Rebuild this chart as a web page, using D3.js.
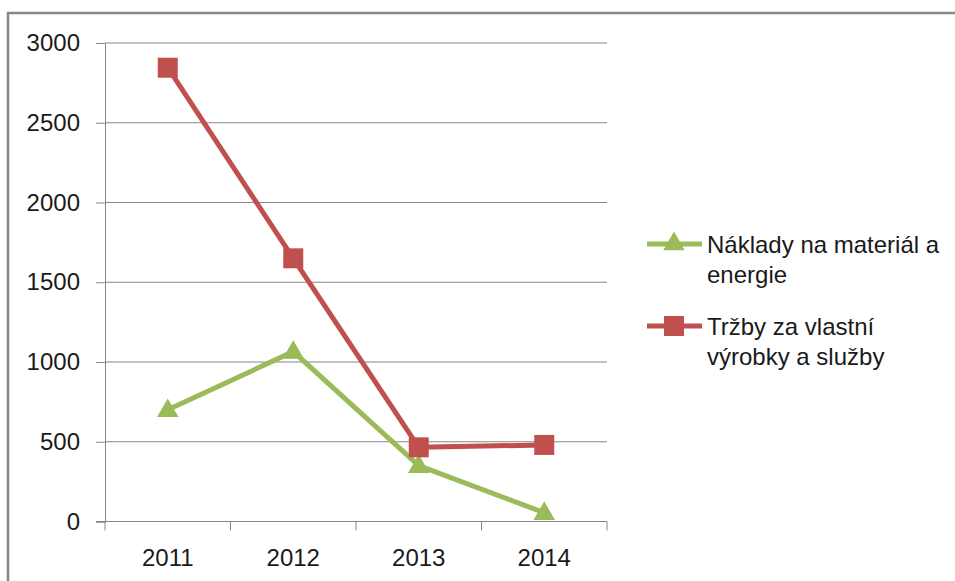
<!DOCTYPE html>
<html>
<head>
<meta charset="utf-8">
<script src="https://cdn.jsdelivr.net/npm/d3@7"></script>
<style>
  body { margin: 0; background: #fff; }
  text { font-family: "Liberation Sans", Arial, sans-serif; fill: #1a1a1a; }
</style>
</head>
<body>
<svg width="955" height="581"></svg>
<script>
// data
var years = ["2011", "2012", "2013", "2014"];
var naklady = [700, 1065, 350, 55];
var trzby = [2845, 1650, 465, 480];
var yTicks = [0, 500, 1000, 1500, 2000, 2500, 3000];
var seriesNames = [["Náklady na materiál a", "energie"], ["Tržby za vlastní", "výrobky a služby"]];

var svg = d3.select("svg");

// outer frame
svg.append("rect")
   .attr("x", 8).attr("y", 13)
   .attr("width", 1000).attr("height", 600)
   .attr("fill", "none")
   .attr("stroke", "#878787")
   .attr("stroke-width", 2.5);

var pLeft = 105, pRight = 607, pTop = 43, pBottom = 521.5;
var fs = 24;

var x = d3.scaleBand()
          .domain(years)
          .range([pLeft, pRight]);

var y = d3.scaleLinear()
          .domain([0, 3000])
          .range([pBottom, pTop]);

// gridlines + y axis
var yAxis = d3.axisLeft(y)
              .tickValues(yTicks)
              .tickFormat(d3.format("d"))
              .tickSize(9);

var gy = svg.append("g")
            .attr("transform", "translate(" + pLeft + ",0)")
            .call(yAxis);
gy.select(".domain").attr("stroke", "#868686");
gy.selectAll(".tick line").attr("stroke", "#868686");
gy.selectAll(".tick text")
  .attr("font-size", fs)
  .attr("font-family", "Liberation Sans, Arial, sans-serif")
  .attr("fill", "#1a1a1a")
  .attr("x", -25);

svg.append("g").selectAll("line")
   .data(yTicks.filter(d => d > 0))
   .enter().append("line")
   .attr("x1", pLeft).attr("x2", pRight)
   .attr("y1", d => y(d)).attr("y2", d => y(d))
   .attr("stroke", "#868686");

// x axis
var gx = svg.append("g")
            .attr("transform", "translate(0," + pBottom + ")");
gx.append("line")
  .attr("x1", pLeft - 9).attr("x2", pRight)
  .attr("stroke", "#868686");
gx.selectAll("line.tk")
  .data(years.concat(["end"]))
  .enter().append("line")
  .attr("class", "tk")
  .attr("x1", (d, i) => i < years.length ? x(d) : pRight)
  .attr("x2", (d, i) => i < years.length ? x(d) : pRight)
  .attr("y1", 0).attr("y2", 9)
  .attr("stroke", "#868686");
gx.selectAll("text")
  .data(years)
  .enter().append("text")
  .attr("x", d => x(d) + x.bandwidth() / 2)
  .attr("y", 44)
  .attr("text-anchor", "middle")
  .attr("font-size", fs)
  .text(d => d);

var cx = d => x(d) + x.bandwidth() / 2;
var line = d3.line()
             .x((d, i) => cx(years[i]))
             .y(d => y(d));

var green = "#9bbb59", red = "#c0504d";
var tri = d3.symbol().type(d3.symbolTriangle).size(200);

// green series
svg.append("path")
   .datum(naklady)
   .attr("d", line)
   .attr("fill", "none")
   .attr("stroke", green)
   .attr("stroke-width", 5)
   .attr("stroke-linejoin", "round");

// red series
svg.append("path")
   .datum(trzby)
   .attr("d", line)
   .attr("fill", "none")
   .attr("stroke", red)
   .attr("stroke-width", 5)
   .attr("stroke-linejoin", "round");

svg.append("g").selectAll("path")
   .data(naklady)
   .enter().append("path")
   .attr("d", tri)
   .attr("transform", (d, i) => "translate(" + cx(years[i]) + "," + (y(d) + 1) + ")")
   .attr("fill", green);

svg.append("g").selectAll("rect")
   .data(trzby)
   .enter().append("rect")
   .attr("x", (d, i) => cx(years[i]) - 10)
   .attr("y", d => y(d) - 10)
   .attr("width", 20).attr("height", 20)
   .attr("fill", red);

// legend
var legend = svg.append("g");
var items = legend.selectAll("g")
   .data(seriesNames)
   .enter().append("g")
   .attr("transform", (d, i) => "translate(0," + (i === 0 ? 244 : 326) + ")");

items.append("line")
   .attr("x1", 647).attr("x2", 702)
   .attr("stroke", (d, i) => i === 0 ? green : red)
   .attr("stroke-width", 5);

items.each(function(d, i) {
  var g = d3.select(this);
  if (i === 0) {
    g.append("path").attr("d", tri).attr("transform", "translate(674,0)").attr("fill", green);
  } else {
    g.append("rect").attr("x", 664).attr("y", -10).attr("width", 20).attr("height", 20).attr("fill", red);
  }
  g.selectAll("text")
   .data(d)
   .enter().append("text")
   .attr("x", 707)
   .attr("y", (t, j) => 9 + j * 30)
   .attr("font-size", fs)
   .text(t => t);
});
</script>
</body>
</html>
